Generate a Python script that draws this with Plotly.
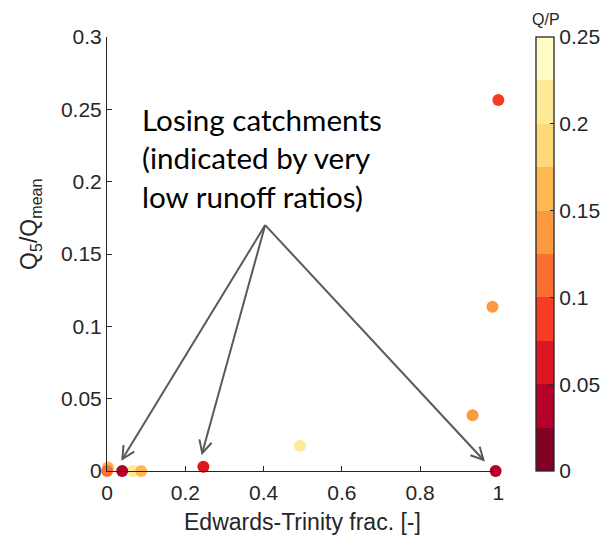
import math
import plotly.graph_objects as go

# Data
et_frac = [0.002, 0.0, 0.066, 0.0385, 0.087, 0.246, 0.493, 0.934, 0.985, 1.003, 1.0, 0.993]
q5_qmean = [0.0025, 0.0, 0.0, 0.0, 0.0, 0.003, 0.0175, 0.0385, 0.1135, 0.1155, 0.2565, 0.0]
q_p = [0.16, 0.11, 0.21, 0.035, 0.16, 0.06, 0.2, 0.14, 0.14, 0.16, 0.09, 0.035]

cb_colors = ["#800026", "#B5002A", "#DE1623", "#F73B25", "#FC6F33",
             "#FD9A40", "#FEB851", "#FED977", "#FEE996", "#FFFCC8"]
cb_ticks = [0, 0.05, 0.1, 0.15, 0.2, 0.25]
x_ticks = [0, 0.2, 0.4, 0.6, 0.8, 1]
y_ticks = [0, 0.05, 0.1, 0.15, 0.2, 0.25, 0.3]

# Arrow geometry (data coords): origin and tips
arrow_origin = (0.404, 0.170)
arrow_tips = [(0.039, 0.0083), (0.243, 0.0124), (0.962, 0.0076)]

n = len(cb_colors)
colorscale = []
for i, c in enumerate(cb_colors):
    colorscale.append([i / n, c])
    colorscale.append([(i + 1) / n, c])

W, H = 606, 541
x0, x1 = 107.5, 500
y_top, y_bot = 37, 471
XR, YR = (0, 1), (0, 0.3)
px_per_x = (x1 - x0) / (XR[1] - XR[0])
px_per_y = (y_bot - y_top) / (YR[1] - YR[0])

FONT = "Liberation Sans, Arial"
INK = "#262626"

fig = go.Figure()
fig.add_trace(go.Scatter(
    x=et_frac, y=q5_qmean, mode="markers", cliponaxis=False,
    marker=dict(size=12, color=q_p, colorscale=colorscale, cmin=0, cmax=0.25,
                line=dict(width=0), opacity=1,
                colorbar=dict(
                    x=538 / W, xanchor="left", y=1 - y_top / H, yanchor="top",
                    len=(y_bot - y_top), lenmode="pixels", thickness=18,
                    outlinewidth=1.3, outlinecolor=INK,
                    tickvals=cb_ticks, ticktext=[f"{v:g}" for v in cb_ticks],
                    ticks="inside", ticklen=4, tickcolor=INK,
                    tickfont=dict(family=FONT, size=21, color=INK),
                    ypad=0, xpad=0,
                )),
    showlegend=False,
))

axis_font = dict(family=FONT, size=21, color=INK)
title_font = dict(family=FONT, size=23, color=INK)
fig.update_layout(
    width=W, height=H,
    margin=dict(l=0, r=0, t=0, b=0),
    paper_bgcolor="white", plot_bgcolor="white",
    xaxis=dict(domain=[x0 / W, x1 / W], range=list(XR), tickvals=x_ticks,
               ticktext=[f"{v:g}" for v in x_ticks], automargin=False,
               showline=True, linecolor=INK, linewidth=1.3,
               ticks="inside", ticklen=5, tickcolor=INK, tickwidth=1.3,
               ticklabelstandoff=3,
               showgrid=False, zeroline=False, tickfont=axis_font),
    yaxis=dict(domain=[1 - y_bot / H, 1 - y_top / H], range=list(YR), tickvals=y_ticks,
               ticktext=[f"{v:g}" for v in y_ticks], automargin=False,
               showline=True, linecolor=INK, linewidth=1.3,
               ticks="inside", ticklen=5, tickcolor=INK, tickwidth=1.3,
               showgrid=False, zeroline=False, tickfont=axis_font),
)

# Axis titles
fig.add_annotation(x=303 / W, y=1 - 522 / H, xref="paper", yref="paper",
                   xanchor="center", yanchor="middle", showarrow=False,
                   text="Edwards-Trinity frac. [-]", font=title_font)
fig.add_annotation(x=30 / W, y=1 - 224 / H, xref="paper", yref="paper",
                   xanchor="center", yanchor="middle", showarrow=False, textangle=-90,
                   text="Q<sub>5</sub>/Q<sub>mean</sub>", font=title_font)

# Arrows: shaft + open V head, computed in pixel space then mapped back to data
arm_len, half_ang = 14, math.radians(27)
arrow_line = dict(color="#595959", width=2)
for tx, ty in arrow_tips:
    ox, oy = arrow_origin
    fig.add_shape(type="line", x0=ox, y0=oy, x1=tx, y1=ty, xref="x", yref="y", line=arrow_line)
    dxp = (ox - tx) * px_per_x
    dyp = -(oy - ty) * px_per_y
    L = math.hypot(dxp, dyp)
    ux, uy = dxp / L, dyp / L
    pts = []
    for s in (-1, 1):
        c, si = math.cos(s * half_ang), math.sin(s * half_ang)
        rx, ry = ux * c - uy * si, ux * si + uy * c
        pts.append((tx + rx * arm_len / px_per_x, ty - ry * arm_len / px_per_y))
    path = f"M {pts[0][0]},{pts[0][1]} L {tx},{ty} L {pts[1][0]},{pts[1][1]}"
    fig.add_shape(type="path", path=path, xref="x", yref="y", line=arrow_line)

fig.add_annotation(x=140 / W, y=1 - 100 / H, xref="paper", yref="paper",
                   xanchor="left", yanchor="top", align="left", showarrow=False,
                   text="Losing catchments<br>(indicated by very<br>low runoff ratios)",
                   font=dict(family="Lato, Carlito, Calibri", size=29.6, color="black"))

fig.add_annotation(x=548 / W, y=1 - 19 / H, xref="paper", yref="paper",
                   xanchor="center", yanchor="middle", showarrow=False,
                   text="Q/P", font=dict(family=FONT, size=16, color=INK))

fig.write_html("out.html")
